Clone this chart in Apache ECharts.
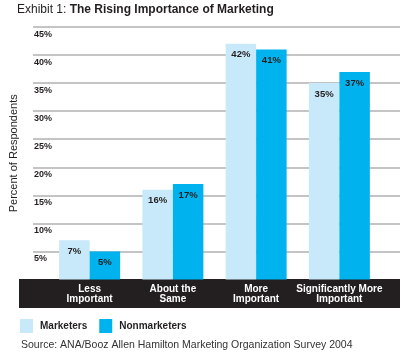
<!DOCTYPE html>
<html lang="en">
<head>
    <meta charset="UTF-8">
    <title>Exhibit 1</title>
    <script src="https://cdn.jsdelivr.net/npm/echarts@6/dist/echarts.min.js"></script>
    <style>
        body{margin:0;background:#fff}
    </style>
</head>
<body>
<div class="main" style="width:400px;height:353px"></div>
</body>
<script>
    // data
    let categories = ['Less\nImportant', 'About the\nSame', 'More\nImportant', 'Significantly More\nImportant'];
    let marketers = [7, 16, 42, 35];
    let nonmarketers = [5, 17, 41, 37];
    let seriesNames = ['Marketers', 'Nonmarketers'];

    let font = '"Liberation Sans", Arial, sans-serif';
    let dark = '#231f20';

    let myChart = echarts.init(document.querySelector('.main'));

    let barLabel = {
        show: true,
        position: 'insideTop',
        distance: 6,
        formatter: p => p.value + '%',
        color: dark,
        fontFamily: font,
        fontWeight: 'bold',
        fontSize: 9.5
    };

    let option = {
        animation: false,
        title: {
            left: 17,
            top: 4,
            padding: 0,
            text: '{a|Exhibit 1: }{b|The Rising Importance of Marketing}',
            textStyle: {
                fontWeight: 'normal',
                rich: {
                    a: {fontFamily: font, fontSize: 12, fontWeight: 'normal', color: dark},
                    b: {fontFamily: font, fontSize: 12, fontWeight: 'bold', color: dark}
                }
            }
        },
        legend: {
            data: seriesNames,
            left: 20,
            top: 319,
            padding: 0,
            icon: 'rect',
            itemWidth: 13,
            itemHeight: 14,
            itemGap: 12,
            textStyle: {fontFamily: font, fontSize: 10, fontWeight: 'bold', color: dark, padding: [0, 0, 0, 2]}
        },
        graphic: [
            {
                type: 'rect',
                z: 1,
                shape: {x: 19, y: 279, width: 381, height: 29},
                style: {fill: dark}
            },
            {
                type: 'text',
                left: 21,
                top: 340,
                style: {
                    text: 'Source: ANA/Booz Allen Hamilton Marketing Organization Survey 2004',
                    font: '10.5px ' + font,
                    fill: '#333'
                }
            }
        ],
        grid: [
            {left: 19, right: 0, top: 27, bottom: 73.5},
            {left: 48, right: 19, top: 27, bottom: 73.5}
        ],
        xAxis: [
            {gridIndex: 0, type: 'value', show: false},
            {
                gridIndex: 1,
                type: 'category',
                data: categories,
                z: 10,
                axisLine: {show: false},
                axisTick: {show: false},
                axisLabel: {
                    interval: 0,
                    color: '#fff',
                    fontFamily: font,
                    fontWeight: 'bold',
                    fontSize: 10,
                    lineHeight: 10,
                    margin: 5
                }
            }
        ],
        yAxis: [
            {
                gridIndex: 0,
                type: 'value',
                min: 0,
                max: 45,
                interval: 5,
                name: 'Percent of Respondents',
                nameLocation: 'middle',
                nameGap: 14,
                nameTextStyle: {fontFamily: font, fontSize: 11, color: dark},
                axisLine: {show: false},
                axisTick: {show: false},
                axisLabel: {
                    inside: true,
                    verticalAlign: 'top',
                    margin: 1,
                    padding: [3, 0, 0, 0],
                    color: dark,
                    fontFamily: font,
                    fontWeight: 'bold',
                    fontSize: 9,
                    formatter: v => v ? v + '%' : ''
                },
                splitLine: {lineStyle: {color: '#c4c4c4', width: 2}}
            },
            {
                gridIndex: 1,
                type: 'value',
                min: 0,
                max: 45,
                show: false,
                splitLine: {show: false}
            }
        ],
        series: [
            {
                name: seriesNames[0],
                type: 'bar',
                xAxisIndex: 1,
                yAxisIndex: 1,
                data: marketers,
                barWidth: 30.5,
                barGap: '0%',
                itemStyle: {color: '#c8e9fa'},
                label: barLabel
            },
            {
                name: seriesNames[1],
                type: 'bar',
                xAxisIndex: 1,
                yAxisIndex: 1,
                data: nonmarketers,
                barWidth: 30.5,
                barGap: '0%',
                itemStyle: {color: '#00b3ef'},
                label: barLabel
            }
        ]
    };
    myChart.setOption(option);
</script>
</html>
